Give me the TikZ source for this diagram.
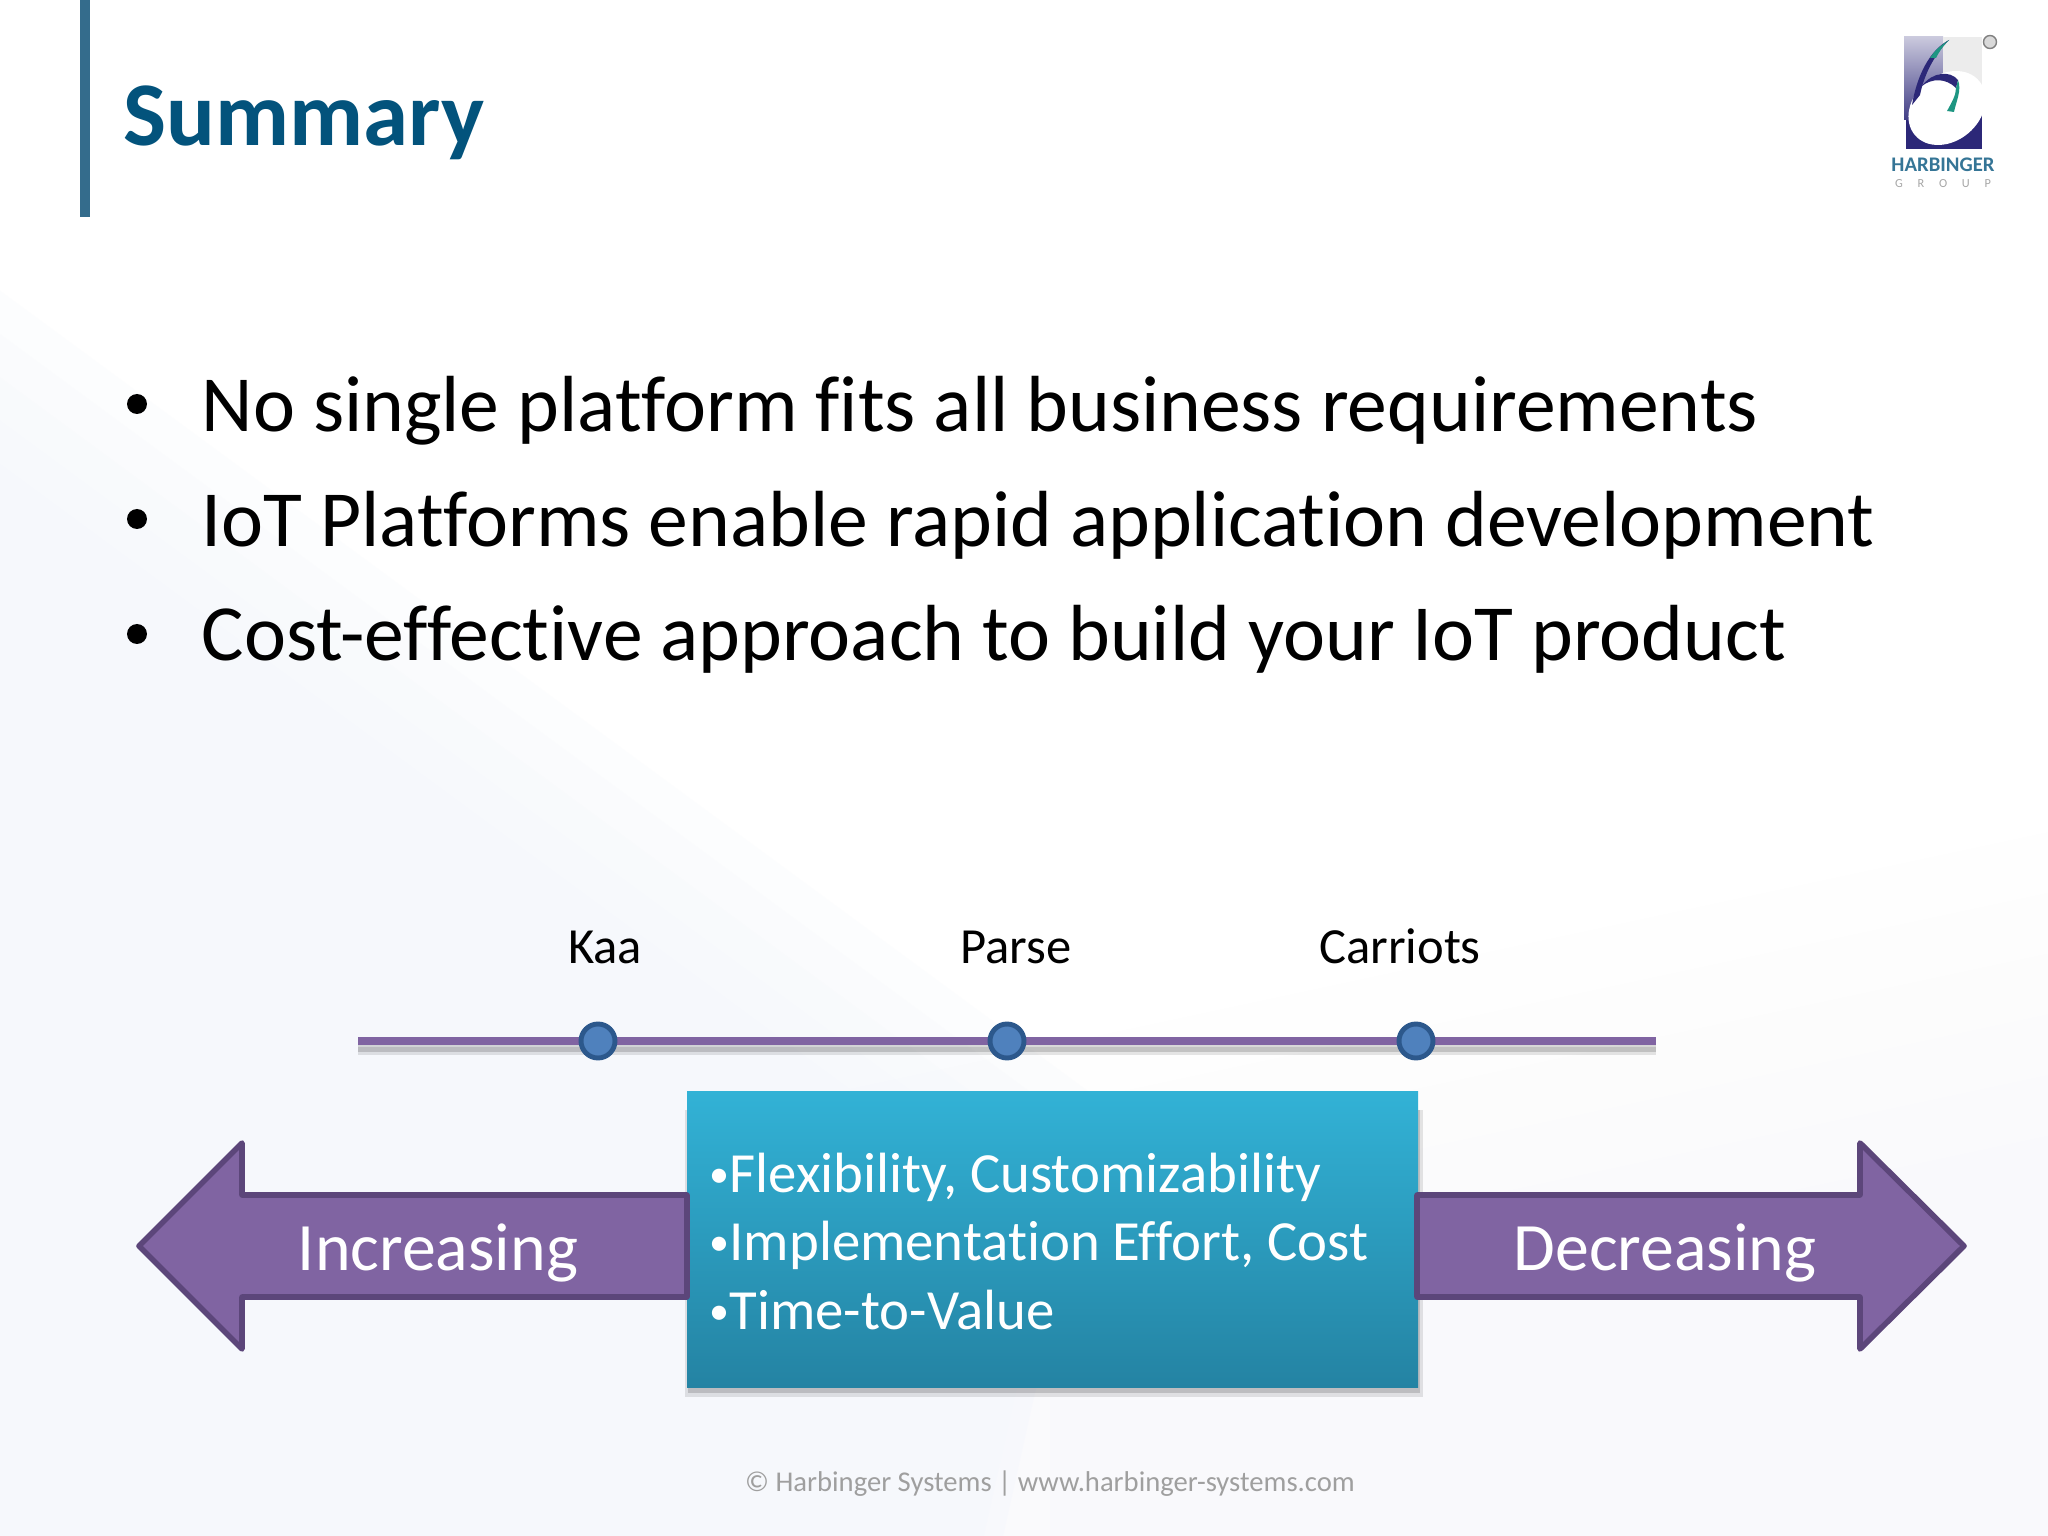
\documentclass[tikz,border=0pt]{standalone}
\usepackage{fontspec}
\setmainfont[Ligatures=NoCommon]{Carlito}
\usetikzlibrary{positioning}
\definecolor{mtitle}{RGB}{3, 83, 124}
\definecolor{mbar}{RGB}{52, 108, 140}
\definecolor{mpurple}{RGB}{128, 100, 162}
\definecolor{mpurpledark}{RGB}{92, 70, 122}
\definecolor{mdot}{RGB}{79, 129, 189}
\definecolor{mdotdark}{RGB}{44, 88, 140}
\definecolor{mboxtop}{RGB}{50, 178, 214}
\definecolor{mboxbottom}{RGB}{36, 131, 163}
\definecolor{mnavy}{RGB}{44, 40, 120}
\definecolor{mteal}{RGB}{30, 150, 130}
\definecolor{mback}{RGB}{246, 248, 252}
\newcommand{\traitdot}{{\fontsize{11.4}{12}\selectfont\raisebox{0.12em}{•}}}
\tikzset{bigarrow/.style = {fill=mpurple, draw=mpurpledark, line width=1.6pt, line join=round},
         bullettext/.style = {anchor=base west, inner sep=0, font=\fontsize{22.65}{27}\selectfont},
         bulletdot/.style = {circle, fill=black, inner sep=0, minimum size=0.2cm},
         platform/.style = {font=\fontsize{14.4}{17}\selectfont},
         platformdot/.style = {circle, fill=mdot, draw=mdotdark, line width=1.4pt, inner sep=0, minimum size=0.34cm},
         arrowtext/.style = {text=white, font=\fontsize{19.3}{23}\selectfont}}

\begin{document}
\begin{tikzpicture}
    \useasboundingbox (0, 0) rectangle (20.48, -15.36);
    \fill [white] (0, 0) rectangle (20.48, -15.36);
    \foreach \d in {0, 0.25, ..., 1.5}
        \fill [mback, opacity=0.25, shift={(-\d, -\d)}] (-3, -0.7) -- (11, -11) -- (9, -20) -- (-3, -20) -- cycle;
    \foreach \d in {0, 0.5, ..., 2.5}
        \fill [mback, opacity=0.1, shift={(\d, -\d)}] (8, -11) -- (22, -8) -- (25, -20) -- (8, -20) -- cycle;

    \fill [mbar] (0.8, 0) rectangle (0.9, -2.17);
    \node (title) [anchor=base west, inner sep=0, text=mtitle, font=\fontsize{25.9}{30}\selectfont\bfseries] at (1.23, -1.46) {Summary};

    \fill [mnavy] (19.06, -1.0) rectangle (19.82, -1.49);
    \shade [top color=mnavy!25, bottom color=mnavy!90] (19.04, -0.37) rectangle (19.43, -1.2);
    \fill [gray!15] (19.43, -0.37) rectangle (19.82, -1.0);
    \fill [white, rotate around={40:(19.47, -1.08)}] (19.47, -1.08) ellipse (0.42 and 0.33);
    \fill [mnavy] (19.49, -0.4) .. controls (19.3, -0.5) and (19.17, -0.75) .. (19.12, -1.05) -- (19.2, -0.95) .. controls (19.24, -0.75) and (19.34, -0.55) .. (19.49, -0.4);
    \fill [mteal] (19.49, -0.4) .. controls (19.4, -0.46) and (19.35, -0.5) .. (19.3, -0.58) -- (19.36, -0.58) .. controls (19.4, -0.5) and (19.44, -0.45) .. cycle;
    \fill [mnavy] (19.22, -0.86) .. controls (19.32, -0.72) and (19.5, -0.7) .. (19.58, -0.8) -- (19.56, -0.88) .. controls (19.46, -0.78) and (19.32, -0.78) .. cycle;
    \fill [mteal] (19.58, -0.8) .. controls (19.62, -0.9) and (19.56, -1.02) .. (19.54, -1.12) -- (19.47, -1.11) .. controls (19.52, -1.02) and (19.56, -0.95) .. (19.56, -0.88) -- cycle;
    \node (mark) [circle, draw=gray, fill=gray!30, inner sep=0, minimum size=0.13cm] at (19.9, -0.42) {};
    \node (logoname) [inner sep=0, text=mtitle!80, font=\fontsize{5.9}{7}\selectfont\bfseries] at (19.43, -1.65) {HARBINGER};
    \node (logogroup) [inner sep=0, text=gray!70, font=\fontsize{3.5}{4}\selectfont] at (19.43, -1.84) {G\hspace{1.2em}R\hspace{1.2em}O\hspace{1.2em}U\hspace{1.2em}P};

    \node (first) [bullettext] at (2.01, -4.315) {No single platform fits all business requirements};
    \node (second) [bullettext] at (2.01, -5.465) {IoT Platforms enable rapid application development};
    \node (third) [bullettext] at (2.01, -6.61) {Cost-effective approach to build your IoT product};
    \node (dotfirst) [bulletdot] at (1.37, -4.04) {};
    \node (dotsecond) [bulletdot] at (1.37, -5.19) {};
    \node (dotthird) [bulletdot] at (1.37, -6.34) {};

    \coordinate (linestart) at (3.58, -10.41);
    \coordinate (lineend) at (16.56, -10.41);
    \draw [line width=2.3pt, black, opacity=0.1] ([yshift=-0.1cm]linestart) -- ([yshift=-0.1cm]lineend);
    \draw [line width=2.3pt, black, opacity=0.15] ([yshift=-0.07cm]linestart) -- ([yshift=-0.07cm]lineend);
    \draw [line width=2.3pt, mpurple] (linestart) -- (lineend);
    \node (kaadot) [platformdot] at (5.98, -10.41) {};
    \node (parsedot) [platformdot] at (10.07, -10.41) {};
    \node (carriotsdot) [platformdot] at (14.16, -10.41) {};
    \node (kaa) [platform] at (6.05, -9.47) {Kaa};
    \node (parse) [platform] at (10.16, -9.47) {Parse};
    \node (carriots) [platform] at (14, -9.46) {Carriots};

    \fill [black, opacity=0.1] (6.85, -11.1) rectangle (14.23, -13.97);
    \fill [black, opacity=0.15] (6.88, -11.1) rectangle (14.2, -13.93);
    \shade [top color=mboxtop, bottom color=mboxbottom] (6.87, -10.91) rectangle (14.18, -13.87);
    \node (traits) [anchor=north west, inner sep=0, align=left, text=white, font=\fontsize{16.15}{19.5}\selectfont] at (7.09, -11.52) {\traitdot Flexibility, Customizability\\\traitdot Implementation Effort, Cost\\\traitdot Time-to-Value};

    \draw [bigarrow] (1.39, -12.46) -- (2.42, -11.43) -- (2.42, -11.95) -- (6.87, -11.95) -- (6.87, -12.97) -- (2.42, -12.97) -- (2.42, -13.49) -- cycle;
    \draw [bigarrow] (19.64, -12.46) -- (18.6, -11.43) -- (18.6, -11.95) -- (14.17, -11.95) -- (14.17, -12.97) -- (18.6, -12.97) -- (18.6, -13.49) -- cycle;
    \node (increasing) [arrowtext] at (4.38, -12.53) {Increasing};
    \node (decreasing) [arrowtext] at (16.65, -12.53) {Decreasing};

    \node (footer) [text=gray!75, font=\fontsize{8.15}{10}\selectfont] at (10.5, -14.84) {© Harbinger Systems | www.harbinger-systems.com};
  \end{tikzpicture}
\end{document}
